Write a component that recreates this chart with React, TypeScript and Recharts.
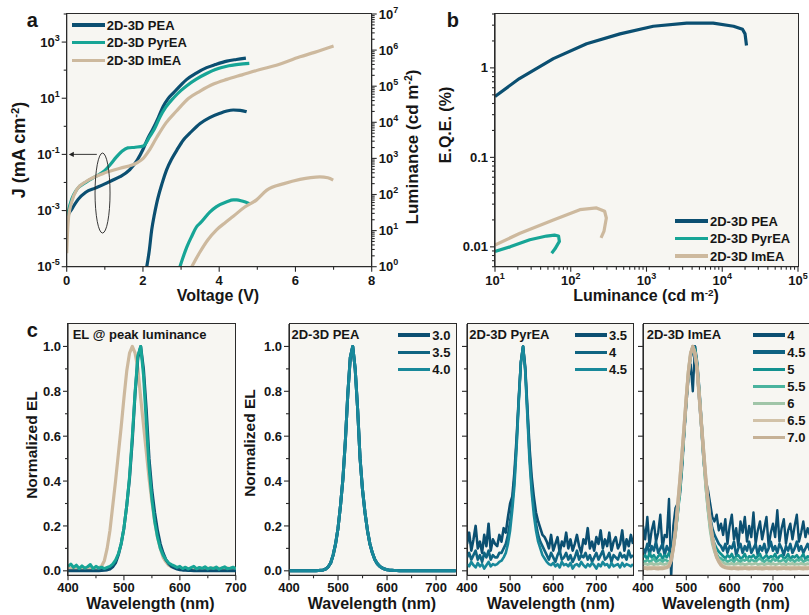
import React from "react";
import { LineChart, Line, XAxis, YAxis, ReferenceDot } from "recharts";

const FONT = "'Liberation Sans', Arial, Helvetica, sans-serif";
const INK = "#161616";
const AX = "#2b2b2b";
const BG = "#F7F6F2";

const C_PEA = "#0B4F71";
const C_PYR = "#17A596";
const C_IMEA = "#CDB99E";

// ---------- panel a : [voltage, J (mA cm-2)] and [voltage, luminance (cd m-2)]
const peaJ = [
  [0.0, 2.5e-4], [0.03, 6.3e-4], [0.13, 1.1e-3], [0.3, 2.5e-3], [0.5, 4.5e-3], [0.75, 6.3e-3],
  [1.0, 8.9e-3], [1.2, 1.2e-2], [1.4, 1.6e-2], [1.65, 2.8e-2], [1.85, 6.3e-2], [2.0, 0.15],
  [2.13, 0.38], [2.27, 0.85], [2.4, 2.0], [2.53, 5.1], [2.65, 9.3], [2.8, 15.5], [3.0, 30],
  [3.15, 47], [3.4, 79], [3.67, 123], [3.9, 158], [4.2, 209], [4.45, 240], [4.7, 269],
];
const pyrJ = [
  [0.0, 4e-4], [0.05, 1e-3], [0.13, 2.5e-3], [0.26, 5.5e-3], [0.52, 1.05e-2], [0.75, 1.6e-2],
  [0.96, 2.4e-2], [1.14, 4.3e-2], [1.3, 8e-2], [1.45, 0.13], [1.6, 0.17], [1.8, 0.18],
  [2.01, 0.2], [2.18, 0.44], [2.3, 0.8], [2.45, 2.2], [2.6, 4.8], [2.8, 10.2], [3.0, 19],
  [3.15, 28], [3.4, 48], [3.67, 76], [3.9, 105], [4.2, 138], [4.5, 160], [4.79, 174],
];
const imeaJ = [
  [0.0, 3e-5], [0.02, 1.5e-4], [0.05, 6e-4], [0.13, 2e-3], [0.26, 5.5e-3], [0.52, 1.1e-2],
  [0.96, 2.1e-2], [1.4, 3.2e-2], [1.84, 5e-2], [2.0, 7e-2], [2.15, 0.13], [2.36, 0.4],
  [2.6, 1.3], [2.88, 3.5], [3.2, 10], [3.5, 18], [3.85, 32], [4.2, 47], [4.6, 68],
  [5.07, 105], [5.5, 150], [6.12, 300], [6.5, 430], [7.0, 720],
];
const peaL = [
  [2.1, 1], [2.16, 2.5], [2.23, 10.5], [2.3, 28], [2.36, 57], [2.5, 200], [2.62, 480],
  [2.75, 950], [2.89, 1700], [3.06, 3240], [3.23, 5000], [3.5, 9300], [3.75, 13500],
  [4.02, 17800], [4.2, 20500], [4.37, 21900], [4.55, 21500], [4.72, 19500],
];
const pyrL = [
  [2.97, 1], [3.05, 1.8], [3.15, 3.5], [3.28, 7], [3.41, 12.9], [3.5, 16], [3.76, 33],
  [3.93, 46], [4.2, 63], [4.37, 71], [4.46, 71], [4.6, 66], [4.81, 55],
];
const imeaL = [
  [3.28, 1], [3.5, 2.6], [3.7, 5.5], [3.93, 10.5], [4.17, 17], [4.37, 25], [4.67, 45],
  [4.98, 71], [5.25, 132], [5.7, 200], [6.12, 263], [6.4, 295], [6.64, 309], [6.85, 290], [6.99, 251],
];

// ---------- panel b : [luminance, EQE (%)]
const peaEQE = [
  [10, 0.48], [21, 0.76], [59, 1.27], [162, 1.86], [447, 2.4], [1230, 2.92], [3390, 3.16],
  [7590, 3.16], [14100, 2.92], [18500, 2.7], [20000, 2.4], [20900, 1.78],
];
const pyrEQE = [
  [10, 0.0089], [15.8, 0.01], [28.8, 0.012], [47.9, 0.0132], [61, 0.0135], [69, 0.0132],
  [70.8, 0.0115], [62, 0.0095], [56, 0.0085],
];
const imeaEQE = [
  [10, 0.0105], [21.4, 0.0142], [58.9, 0.02], [132, 0.026], [219, 0.0272], [280, 0.025],
  [295, 0.021], [275, 0.015], [251, 0.0126],
];

// ---------- panel c : wavelength grid (nm) and normalized EL
const wl = [
  400, 405, 410, 415, 420, 425, 430, 435, 440, 445,
  450, 455, 460, 465, 470, 475, 480, 485, 490, 495,
  500, 505, 510, 515, 520, 525, 530, 535, 540, 545,
  550, 555, 560, 565, 570, 575, 580, 585, 590, 595,
  600, 605, 610, 615, 620, 625, 630, 635, 640, 645,
  650, 655, 660, 665, 670, 675, 680, 685, 690, 695,
  700, 705, 710, 715, 720, 725, 730, 735, 740, 745,
  750, 755, 760, 765, 770, 775, 780, 785,
];
const peaEL = [
  0, 0, 0, 0, 0, 0, 0, 0, 0, 0,
  0, 0, 0.001, 0.002, 0.004, 0.008, 0.018, 0.035, 0.07, 0.12,
  0.19, 0.29, 0.41, 0.58, 0.79, 0.95, 1.0, 0.9, 0.72, 0.5,
  0.36, 0.26, 0.18, 0.12, 0.08, 0.05, 0.032, 0.02, 0.013, 0.008,
  0.005, 0.003, 0.002, 0.001, 0.001, 0, 0, 0, 0, 0,
  0, 0, 0, 0, 0, 0, 0, 0, 0, 0,
  0, 0, 0, 0, 0, 0, 0, 0, 0, 0,
  0, 0, 0, 0, 0, 0, 0, 0,
];
const pyrPeakEL = [
  0.02, 0.03, 0.015, 0.025, 0.01, 0.022, 0.012, 0.018, 0.028, 0.01,
  0.02, 0.012, 0.016, 0.01, 0.015, 0.02, 0.03, 0.048, 0.075, 0.12,
  0.19, 0.29, 0.42, 0.6, 0.8, 0.96, 1.0, 0.87, 0.66, 0.46,
  0.32, 0.22, 0.15, 0.1, 0.07, 0.05, 0.035, 0.028, 0.022, 0.015,
  0.02, 0.01, 0.016, 0.008, 0.014, 0.02, 0.009, 0.015, 0.011, 0.018,
  0.008, 0.014, 0.01, 0.017, 0.007, 0.013, 0.018, 0.009, 0.012, 0.016,
  0.01, 0.015, 0.008, 0.013, 0.017, 0.009, 0.012, 0.016, 0.01, 0.014,
  0.009, 0.013, 0.016, 0.01, 0.012, 0.015, 0.008, 0.013,
];
const imeaPeakEL = [
  0.01, 0.012, 0.009, 0.011, 0.01, 0.012, 0.01, 0.009, 0.011, 0.01,
  0.012, 0.014, 0.02, 0.045, 0.1, 0.18, 0.29, 0.4, 0.52, 0.64,
  0.77, 0.89, 0.97, 1.0, 0.97, 0.9, 0.77, 0.65, 0.53, 0.41,
  0.31, 0.22, 0.15, 0.1, 0.06, 0.04, 0.025, 0.018, 0.014, 0.012,
  0.011, 0.01, 0.012, 0.01, 0.009, 0.011, 0.01, 0.012, 0.01, 0.009,
  0.011, 0.01, 0.012, 0.01, 0.011, 0.009, 0.01, 0.012, 0.01, 0.011,
  0.01, 0.012, 0.009, 0.011, 0.01, 0.012, 0.01, 0.011, 0.009, 0.01,
  0.011, 0.01, 0.012, 0.01, 0.009, 0.011, 0.01, 0.012,
];
const pyr35 = [
  0.12, 0.17, 0.09, 0.14, 0.2, 0.1, 0.13, 0.08, 0.16, 0.11,
  0.21, 0.09, 0.14, 0.12, 0.11, 0.16, 0.13, 0.19, 0.17, 0.24,
  0.3, 0.33, 0.44, 0.59, 0.77, 0.93, 1.0, 0.91, 0.73, 0.55,
  0.42, 0.33, 0.26, 0.22, 0.19, 0.16, 0.15, 0.13, 0.1, 0.16,
  0.09, 0.12, 0.15, 0.08, 0.13, 0.11, 0.17, 0.1, 0.14, 0.09,
  0.12, 0.16, 0.11, 0.08, 0.14, 0.12, 0.19, 0.1, 0.13, 0.09,
  0.15, 0.12, 0.18, 0.1, 0.14, 0.11, 0.17, 0.09, 0.13, 0.15,
  0.1, 0.12, 0.18, 0.09, 0.14, 0.11, 0.16, 0.12,
];
const pyr40 = [
  0.06, 0.08, 0.05, 0.07, 0.09, 0.05, 0.07, 0.04, 0.08, 0.06,
  0.09, 0.05, 0.07, 0.06, 0.06, 0.08, 0.08, 0.1, 0.12, 0.16,
  0.22, 0.3, 0.41, 0.57, 0.76, 0.93, 1.0, 0.9, 0.71, 0.52,
  0.38, 0.28, 0.21, 0.16, 0.13, 0.11, 0.09, 0.07, 0.05, 0.08,
  0.06, 0.04, 0.07, 0.09, 0.05, 0.06, 0.08, 0.05, 0.07, 0.04,
  0.06, 0.09, 0.05, 0.07, 0.06, 0.08, 0.05, 0.07, 0.04, 0.06,
  0.08, 0.05, 0.07, 0.09, 0.05, 0.06, 0.08, 0.04, 0.07, 0.06,
  0.05, 0.08, 0.06, 0.07, 0.05, 0.09, 0.06, 0.07,
];
const pyr45 = [
  0.03, 0.02, 0.04, 0.025, 0.015, 0.035, 0.02, 0.03, 0.01, 0.025,
  0.04, 0.02, 0.03, 0.025, 0.03, 0.04, 0.045, 0.06, 0.08, 0.12,
  0.18, 0.27, 0.38, 0.55, 0.75, 0.93, 1.0, 0.89, 0.69, 0.49,
  0.35, 0.25, 0.18, 0.13, 0.1, 0.07, 0.055, 0.04, 0.03, 0.025,
  0.035, 0.02, 0.03, 0.015, 0.04, 0.025, 0.03, 0.02, 0.035, 0.01,
  0.025, 0.03, 0.02, 0.04, 0.025, 0.015, 0.03, 0.02, 0.035, 0.025,
  0.01, 0.03, 0.02, 0.04, 0.025, 0.03, 0.015, 0.035, 0.02, 0.025,
  0.03, 0.015, 0.035, 0.02, 0.03, 0.025, 0.02, 0.03,
];
const imea40 = [
  0.2, 0.14, 0.24, 0.11, 0.18, 0.22, 0.13, 0.17, 0.25, 0.1,
  0.16, 0.15, 0.32, -0.03, 0.2, 0.28, 0.3, 0.33, 0.45, 0.6,
  0.74, 0.86, 0.92, 0.8, 1.0, 0.88, 0.75, 0.62, 0.48, 0.4,
  0.36, 0.3, 0.24, 0.22, 0.25, 0.18, 0.21, 0.16, 0.23, 0.12,
  0.2, 0.25, 0.14, 0.19, 0.11, 0.22, 0.17, 0.24, 0.13, 0.2,
  0.15, 0.26, 0.12, 0.18, 0.22, 0.14, 0.19, 0.24, 0.11, 0.17,
  0.21, 0.15, 0.27, 0.13, 0.19, 0.23, 0.12, 0.18, 0.21, 0.14,
  0.2, 0.25, 0.13, 0.17, 0.22, 0.15, 0.19, 0.16,
];
const imea45 = [
  0.1, 0.08, 0.12, 0.07, 0.11, 0.09, 0.13, 0.08, 0.1, 0.12,
  0.07, 0.11, 0.09, 0.1, 0.14, 0.19, 0.26, 0.36, 0.48, 0.62,
  0.76, 0.88, 0.95, 0.98, 1.0, 0.93, 0.81, 0.67, 0.53, 0.41,
  0.31, 0.24, 0.19, 0.16, 0.14, 0.12, 0.11, 0.09, 0.12, 0.08,
  0.11, 0.1, 0.13, 0.07, 0.1, 0.12, 0.08, 0.11, 0.09, 0.13,
  0.08, 0.1, 0.12, 0.07, 0.11, 0.09, 0.12, 0.08, 0.1, 0.13,
  0.09, 0.11, 0.08, 0.12, 0.1, 0.07, 0.11, 0.09, 0.12, 0.08,
  0.1, 0.13, 0.09, 0.11, 0.08, 0.1, 0.12, 0.09,
];
const imea50 = [
  0.06, 0.07, 0.05, 0.08, 0.06, 0.07, 0.05, 0.065, 0.075, 0.055,
  0.07, 0.06, 0.08, 0.06, 0.11, 0.17, 0.25, 0.35, 0.48, 0.62,
  0.76, 0.88, 0.96, 1.0, 0.99, 0.92, 0.8, 0.66, 0.52, 0.39,
  0.29, 0.21, 0.15, 0.12, 0.1, 0.085, 0.075, 0.065, 0.055, 0.07,
  0.06, 0.075, 0.05, 0.065, 0.07, 0.055, 0.06, 0.075, 0.05, 0.065,
  0.06, 0.07, 0.055, 0.065, 0.075, 0.05, 0.06, 0.07, 0.055, 0.065,
  0.06, 0.075, 0.05, 0.065, 0.07, 0.055, 0.06, 0.075, 0.05, 0.065,
  0.06, 0.07, 0.055, 0.06, 0.075, 0.05, 0.065, 0.06,
];
const imea55 = [
  0.045, 0.04, 0.05, 0.04, 0.045, 0.055, 0.04, 0.045, 0.05, 0.04,
  0.05, 0.045, 0.04, 0.05, 0.1, 0.16, 0.25, 0.35, 0.48, 0.62,
  0.77, 0.89, 0.97, 1.0, 0.98, 0.9, 0.78, 0.64, 0.5, 0.37,
  0.27, 0.19, 0.13, 0.095, 0.075, 0.06, 0.055, 0.045, 0.05, 0.04,
  0.045, 0.05, 0.04, 0.055, 0.045, 0.04, 0.05, 0.045, 0.055, 0.04,
  0.05, 0.045, 0.04, 0.05, 0.055, 0.045, 0.04, 0.05, 0.045, 0.04,
  0.055, 0.045, 0.05, 0.04, 0.045, 0.05, 0.04, 0.055, 0.045, 0.05,
  0.04, 0.05, 0.045, 0.055, 0.04, 0.045, 0.05, 0.045,
];
const imea60 = [
  0.03, 0.032, 0.028, 0.03, 0.034, 0.027, 0.031, 0.029, 0.033, 0.03,
  0.028, 0.032, 0.035, 0.05, 0.1, 0.17, 0.26, 0.37, 0.5, 0.64,
  0.78, 0.9, 0.97, 1.0, 0.97, 0.9, 0.78, 0.64, 0.5, 0.37,
  0.27, 0.18, 0.12, 0.085, 0.06, 0.045, 0.04, 0.035, 0.032, 0.03,
  0.03, 0.033, 0.028, 0.031, 0.034, 0.029, 0.032, 0.027, 0.03, 0.033,
  0.029, 0.031, 0.034, 0.028, 0.03, 0.032, 0.027, 0.031, 0.033, 0.029,
  0.032, 0.028, 0.03, 0.034, 0.029, 0.031, 0.027, 0.032, 0.03, 0.033,
  0.028, 0.031, 0.029, 0.033, 0.03, 0.028, 0.032, 0.03,
];
const imea65 = [
  0.015, 0.016, 0.014, 0.015, 0.017, 0.014, 0.015, 0.016, 0.014, 0.015,
  0.016, 0.018, 0.025, 0.05, 0.1, 0.18, 0.29, 0.4, 0.52, 0.65,
  0.78, 0.89, 0.97, 1.0, 0.97, 0.9, 0.78, 0.65, 0.53, 0.41,
  0.31, 0.22, 0.15, 0.1, 0.065, 0.045, 0.03, 0.022, 0.018, 0.016,
  0.015, 0.016, 0.014, 0.017, 0.015, 0.014, 0.016, 0.015, 0.017, 0.014,
  0.016, 0.015, 0.014, 0.016, 0.017, 0.015, 0.014, 0.016, 0.015, 0.017,
  0.014, 0.016, 0.015, 0.014, 0.017, 0.015, 0.016, 0.014, 0.015, 0.017,
  0.016, 0.014, 0.015, 0.016, 0.014, 0.017, 0.015, 0.016,
];
const imea70 = imeaPeakEL;

const specRows = wl.map((w, i) => ({
  wl: w,
  pea: peaEL[i], pyrPeak: pyrPeakEL[i], imeaPeak: imeaPeakEL[i],
  pyr35: pyr35[i], pyr40: pyr40[i], pyr45: pyr45[i],
  imea40: imea40[i], imea45: imea45[i], imea50: imea50[i], imea55: imea55[i],
  imea60: imea60[i], imea65: imea65[i], imea70: imea70[i],
}));

const pts = (arr: number[][]) => arr.map(([x, y]) => ({ x, y }));

// ---------- ticks
function logTicks(lo: number, hi: number) {
  const out: number[] = [];
  for (let e = Math.floor(Math.log10(lo)); e <= Math.ceil(Math.log10(hi)); e++) {
    for (let k = 1; k < 10; k++) {
      const v = k * Math.pow(10, e);
      if (v >= lo * 0.999 && v <= hi * 1.001) out.push(v);
    }
  }
  return out;
}
const expOf = (v: number) => Math.round(Math.log10(v));
const isDecade = (v: number) => Math.abs(Math.log10(v) - expOf(v)) < 1e-6;
const pow10 = (v: number) => (
  <>
    <tspan>10</tspan>
    <tspan dy={-6} fontSize={9}>{expOf(v)}</tspan>
  </>
);

const vTicks = [0, 1, 2, 3, 4, 5, 6, 7, 8];
const jTicks = [1e-5, 1e-4, 1e-3, 1e-2, 1e-1, 1, 10, 100, 1e3, 1e4];
const lTicks = logTicks(1, 1e7);
const bxTicks = logTicks(10, 1e5);
const byTicks = logTicks(0.006, 4);
const wlTicks = [400, 450, 500, 550, 600, 650, 700, 750];
const elTicks = [0, 0.1, 0.2, 0.3, 0.4, 0.5, 0.6, 0.7, 0.8, 0.9, 1.0];

type LabelFn = (v: number) => React.ReactNode | null;
function axisTick(side: "left" | "right" | "bottom", isMajor: (v: number) => boolean, label: LabelFn, drop = 18) {
  return (props: any) => {
    const { x, y, payload } = props;
    const v = Number(payload.value);
    const major = isMajor(v);
    const len = major ? 5 : 3;
    const txt = major ? label(v) : null;
    const font = { fontFamily: FONT, fontWeight: 700, fontSize: 13, fill: INK };
    if (side === "bottom") {
      return (
        <g>
          <line x1={x} y1={y} x2={x} y2={y + len} stroke={AX} strokeWidth={1.1} />
          {txt != null && (
            <text x={x} y={y + drop} textAnchor="middle" {...font}>{txt}</text>
          )}
        </g>
      );
    }
    const dir = side === "left" ? -1 : 1;
    return (
      <g>
        <line x1={x} y1={y} x2={x + dir * len} y2={y} stroke={AX} strokeWidth={1.1} />
        {txt != null && (
          <text x={x + dir * (len + 2)} y={y + 4.6} textAnchor={side === "left" ? "end" : "start"} {...font}>
            {txt}
          </text>
        )}
      </g>
    );
  };
}

const axisLine = { stroke: AX, strokeWidth: 1.2 };
const noTickProps = { tickSize: 0, tickMargin: 0, tickLine: false, interval: 0 as const, allowDataOverflow: true };

// ---------- html helpers
type Rect = { l: number; t: number; r: number; b: number };

function PlotBg({ p }: { p: Rect }) {
  return (
    <div
      style={{
        position: "absolute", left: p.l - 0.6, top: p.t - 0.6,
        width: p.r - p.l + 1.2, height: p.b - p.t + 1.2,
        background: BG, border: `1.2px solid ${AX}`, boxSizing: "border-box",
      }}
    />
  );
}

function Txt({ x, y, size = 13, center = false, children }: any) {
  return (
    <div
      style={{
        position: "absolute", left: x, top: y - 0.8465 * size,
        transform: center ? "translateX(-50%)" : undefined,
        fontFamily: FONT, fontWeight: 700, fontSize: size, lineHeight: 1,
        color: INK, whiteSpace: "nowrap",
      }}
    >
      {children}
    </div>
  );
}

function VTitle({ cx, cy, size = 16, children }: any) {
  return (
    <div
      style={{
        position: "absolute", left: cx, top: cy,
        transform: "translate(-50%,-50%) rotate(-90deg)",
        fontFamily: FONT, fontWeight: 700, fontSize: size, lineHeight: 1,
        color: INK, whiteSpace: "nowrap",
      }}
    >
      {children}
    </div>
  );
}

const Sup = ({ children }: any) => (
  <span style={{ fontSize: "0.62em", position: "relative", top: "-0.55em" }}>{children}</span>
);

function SeriesKey({ x, y, rowH, len = 33, items }: { x: number; y: number; rowH: number; len?: number; items: { label: string; color: string }[] }) {
  return (
    <>
      {items.map((it, i) => (
        <React.Fragment key={it.label}>
          <div style={{ position: "absolute", left: x, top: y + i * rowH - 1.7, width: len, height: 3.4, background: it.color }} />
          <Txt x={x + len + 2} y={y + i * rowH + 4.6}>{it.label}</Txt>
        </React.Fragment>
      ))}
    </>
  );
}

// ---------- panel c spectrum chart
type Series = { key: string; color: string; w: number };
function SpectrumPanel({ p, xMax, series, yLabels }: { p: Rect; xMax: number; series: Series[]; yLabels: boolean }) {
  const top = 310;
  const h = 305;
  const bx = p.l - 60;
  const bw = p.r - bx + 16;
  const yw = 50;
  return (
    <div style={{ position: "absolute", left: bx, top }}>
      <LineChart
        width={bw}
        height={h}
        data={specRows}
        margin={{ top: p.t - top, right: bx + bw - p.r, bottom: top + h - p.b - 30, left: p.l - bx - yw }}
      >
        <XAxis
          type="number" dataKey="wl" domain={[400, xMax]} height={30}
          ticks={wlTicks.filter((t) => t <= xMax)} axisLine={axisLine} {...noTickProps}
          tick={axisTick("bottom", (v) => v % 100 === 0, (v) => String(v), 17)}
        />
        <YAxis
          type="number" domain={[-0.02, 1.1]} width={yw} ticks={elTicks}
          axisLine={axisLine} {...noTickProps}
          tick={axisTick("left", (v) => Math.round(v * 10) % 2 === 0, yLabels ? (v) => v.toFixed(1) : () => null)}
        />
        {series.map((s) => (
          <Line
            key={s.key} dataKey={s.key} type="linear" stroke={s.color} strokeWidth={s.w}
            strokeLinejoin="round" dot={false} activeDot={false} isAnimationActive={false}
          />
        ))}
      </LineChart>
    </div>
  );
}

const pA: Rect = { l: 66.7, t: 14, r: 371.7, b: 266.7 };
const pB: Rect = { l: 495, t: 14, r: 798, b: 266.7 };
const pC1: Rect = { l: 67.7, t: 324, r: 235.5, b: 575.3 };
const pC2: Rect = { l: 289.3, t: 324, r: 456, b: 575.3 };
const pC3: Rect = { l: 467.3, t: 324, r: 633.3, b: 575.3 };
const pC4: Rect = { l: 643.3, t: 324, r: 810.1, b: 575.3 };

const lineBase = { dot: false, activeDot: false, isAnimationActive: false, strokeWidth: 3.2, strokeLinejoin: "round" as const };

export default function App() {
  return (
    <div style={{ position: "absolute", left: 0, top: 0, width: 809, height: 615, overflow: "hidden", background: "#fff" }}>
      {[pA, pB, pC1, pC2, pC3, pC4].map((p, i) => (
        <PlotBg key={i} p={p} />
      ))}

      {/* a: J-V-L */}
      <div style={{ position: "absolute", left: 0, top: 0 }}>
        <LineChart width={430} height={300} margin={{ top: 14, right: 8.3, bottom: 8.3, left: 16.7 }}>
          <XAxis
            type="number" dataKey="x" domain={[0, 8]} height={25} ticks={vTicks}
            axisLine={axisLine} {...noTickProps}
            tick={axisTick("bottom", (v) => v % 2 === 0, (v) => String(v))}
          />
          <YAxis
            yAxisId="J" type="number" scale="log" domain={[1e-5, 1e4]} width={50} ticks={jTicks}
            axisLine={axisLine} {...noTickProps}
            tick={axisTick("left", (v) => Math.abs(expOf(v)) % 2 === 1, pow10)}
          />
          <YAxis
            yAxisId="L" orientation="right" type="number" scale="log" domain={[1, 1e7]} width={50}
            ticks={lTicks} axisLine={axisLine} {...noTickProps}
            tick={axisTick("right", isDecade, pow10)}
          />
          <Line yAxisId="J" data={pts(peaJ)} dataKey="y" type="monotone" stroke={C_PEA} {...lineBase} />
          <Line yAxisId="J" data={pts(pyrJ)} dataKey="y" type="monotone" stroke={C_PYR} {...lineBase} />
          <Line yAxisId="J" data={pts(imeaJ)} dataKey="y" type="monotone" stroke={C_IMEA} {...lineBase} />
          <Line yAxisId="L" data={pts(peaL)} dataKey="y" type="monotone" stroke={C_PEA} {...lineBase} />
          <Line yAxisId="L" data={pts(pyrL)} dataKey="y" type="monotone" stroke={C_PYR} {...lineBase} />
          <Line yAxisId="L" data={pts(imeaL)} dataKey="y" type="monotone" stroke={C_IMEA} {...lineBase} />
          <ReferenceDot
            yAxisId="J" x={0.94} y={4.2e-3}
            shape={(s: any) => <ellipse cx={s.cx} cy={s.cy} rx={7.5} ry={40} fill="none" stroke="#222" strokeWidth={0.9} />}
          />
          <ReferenceDot
            yAxisId="J" x={0.79} y={0.1}
            shape={(s: any) => (
              <g>
                <line x1={s.cx} y1={s.cy} x2={s.cx - 24} y2={s.cy} stroke="#222" strokeWidth={0.9} />
                <path d={`M${s.cx - 28},${s.cy} l5,-2.6 l0,5.2 z`} fill="#222" />
              </g>
            )}
          />
        </LineChart>
      </div>

      {/* b: EQE-L */}
      <div style={{ position: "absolute", left: 420, top: 0 }}>
        <LineChart width={389} height={300} margin={{ top: 14, right: 11, bottom: 8.3, left: 15 }}>
          <XAxis
            type="number" dataKey="x" scale="log" domain={[10, 1e5]} height={25} ticks={bxTicks}
            axisLine={axisLine} {...noTickProps}
            tick={axisTick("bottom", isDecade, pow10)}
          />
          <YAxis
            type="number" scale="log" domain={[0.006, 4]} width={60} ticks={byTicks}
            axisLine={axisLine} {...noTickProps}
            tick={axisTick("left", isDecade, (v) => ["0.01", "0.1", "1"][expOf(v) + 2])}
          />
          <Line data={pts(peaEQE)} dataKey="y" type="linear" stroke={C_PEA} {...lineBase} />
          <Line data={pts(pyrEQE)} dataKey="y" type="linear" stroke={C_PYR} {...lineBase} />
          <Line data={pts(imeaEQE)} dataKey="y" type="linear" stroke={C_IMEA} {...lineBase} />
        </LineChart>
      </div>

      {/* c: EL spectra */}
      <SpectrumPanel
        p={pC1} xMax={700} yLabels
        series={[
          { key: "imeaPeak", color: C_IMEA, w: 3.2 },
          { key: "pea", color: C_PEA, w: 3 },
          { key: "pyrPeak", color: C_PYR, w: 3 },
        ]}
      />
      <SpectrumPanel
        p={pC2} xMax={740} yLabels
        series={[
          { key: "pea", color: "#0B4F71", w: 3 },
          { key: "pea", color: "#0F6482", w: 3 },
          { key: "pea", color: "#18889A", w: 3 },
        ]}
      />
      <SpectrumPanel
        p={pC3} xMax={785} yLabels={false}
        series={[
          { key: "pyr35", color: "#0B4F71", w: 2.6 },
          { key: "pyr40", color: "#0F6482", w: 2.6 },
          { key: "pyr45", color: "#18889A", w: 2.6 },
        ]}
      />
      <SpectrumPanel
        p={pC4} xMax={785} yLabels={false}
        series={[
          { key: "imea40", color: "#0B4F71", w: 2.4 },
          { key: "imea45", color: "#0E6282", w: 2.6 },
          { key: "imea50", color: "#12918F", w: 2.6 },
          { key: "imea55", color: "#4AB39E", w: 2.6 },
          { key: "imea60", color: "#A0C5A8", w: 2.8 },
          { key: "imea65", color: "#D2C2A8", w: 3.2 },
          { key: "imea70", color: "#C6B196", w: 3.4 },
        ]}
      />

      {/* panel letters */}
      <Txt x={26.7} y={26.7} size={20}>a</Txt>
      <Txt x={446.7} y={26.7} size={20}>b</Txt>
      <Txt x={26.7} y={336.7} size={20}>c</Txt>

      {/* axis titles */}
      <VTitle cx={19} cy={150} size={18}>J (mA cm<Sup>-2</Sup>)</VTitle>
      <VTitle cx={412} cy={147} size={17}>Luminance (cd m<Sup>-2</Sup>)</VTitle>
      <Txt x={218} y={302} size={16} center>Voltage (V)</Txt>
      <VTitle cx={446} cy={125} size={16}>E.Q.E. (%)</VTitle>
      <Txt x={646} y={302} size={16} center>Luminance (cd m<Sup>-2</Sup>)</Txt>
      <VTitle cx={31.7} cy={445} size={15.5}>Normalized EL</VTitle>
      <VTitle cx={250} cy={443} size={15.5}>Normalized EL</VTitle>
      <Txt x={150.5} y={610} size={16} center>Wavelength (nm)</Txt>
      <Txt x={372} y={610} size={16} center>Wavelength (nm)</Txt>
      <Txt x={550.8} y={610} size={16} center>Wavelength (nm)</Txt>
      <Txt x={725.8} y={610} size={16} center>Wavelength (nm)</Txt>

      {/* in-plot titles */}
      <Txt x={72.7} y={339}>EL @ peak luminance</Txt>
      <Txt x={291.5} y={339}>2D-3D PEA</Txt>
      <Txt x={469.3} y={339}>2D-3D PyrEA</Txt>
      <Txt x={646.7} y={339}>2D-3D ImEA</Txt>

      {/* legends */}
      <SeriesKey
        x={71.7} y={25} rowH={17.6}
        items={[
          { label: "2D-3D PEA", color: C_PEA },
          { label: "2D-3D PyrEA", color: C_PYR },
          { label: "2D-3D ImEA", color: C_IMEA },
        ]}
      />
      <SeriesKey
        x={675} y={221} rowH={17.5}
        items={[
          { label: "2D-3D PEA", color: C_PEA },
          { label: "2D-3D PyrEA", color: C_PYR },
          { label: "2D-3D ImEA", color: C_IMEA },
        ]}
      />
      <SeriesKey
        x={398.3} y={335} rowH={17.2} len={32}
        items={[
          { label: "3.0", color: "#0B4F71" },
          { label: "3.5", color: "#0F6482" },
          { label: "4.0", color: "#18889A" },
        ]}
      />
      <SeriesKey
        x={575} y={335} rowH={17.2} len={32}
        items={[
          { label: "3.5", color: "#0B4F71" },
          { label: "4", color: "#0F6482" },
          { label: "4.5", color: "#18889A" },
        ]}
      />
      <SeriesKey
        x={753.3} y={335} rowH={17.1} len={32}
        items={[
          { label: "4", color: "#0B4F71" },
          { label: "4.5", color: "#0E6282" },
          { label: "5", color: "#12918F" },
          { label: "5.5", color: "#4AB39E" },
          { label: "6", color: "#A0C5A8" },
          { label: "6.5", color: "#D2C2A8" },
          { label: "7.0", color: "#C6B196" },
        ]}
      />
    </div>
  );
}
